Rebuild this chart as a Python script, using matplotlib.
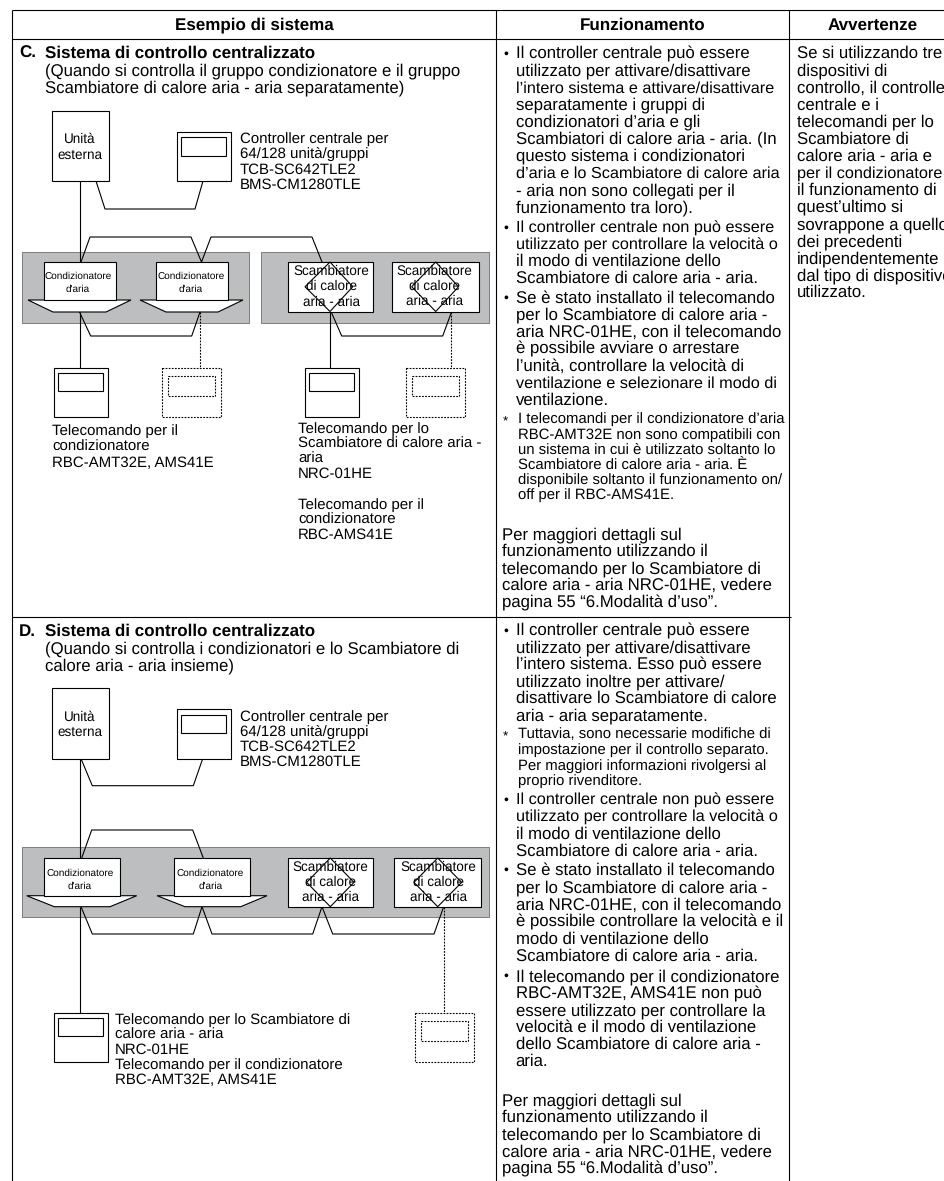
import matplotlib
matplotlib.use("Agg")
import matplotlib.pyplot as plt
from matplotlib import font_manager
from matplotlib.patches import Polygon, Rectangle

plt.rcParams['font.family'] = ['Liberation Sans', 'DejaVu Sans']
plt.rcParams['text.hinting'] = 'no_hinting'

headers = ["Esempio di sistema", "Funzionamento", "Avvertenze"]

title_c = "Sistema di controllo centralizzato"
sub_c = ["(Quando si controlla il gruppo condizionatore e il gruppo",
         "Scambiatore di calore aria - aria separatamente)"]
title_d = "Sistema di controllo centralizzato"
sub_d = ["(Quando si controlla i condizionatori e lo Scambiatore di",
         "calore aria - aria insieme)"]

outdoor = ["Unità", "esterna"]
central = ["Controller centrale per", "64/128 unità/gruppi", "TCB-SC642TLE2", "BMS-CM1280TLE"]
cond = ["Condizionatore", "d'aria"]
erv = ["Scambiatore", "di calore", "aria - aria"]

remote_c1 = ["Telecomando per il", "condizionatore", "RBC-AMT32E, AMS41E"]
remote_c2 = ["Telecomando per lo", "Scambiatore di calore aria -", "aria", "NRC-01HE"]
remote_c3 = ["Telecomando per il", "condizionatore", "RBC-AMS41E"]
remote_d = ["Telecomando per lo Scambiatore di", "calore aria - aria", "NRC-01HE",
            "Telecomando per il condizionatore", "RBC-AMT32E, AMS41E"]

func_c1 = ["Il controller centrale può essere", "utilizzato per attivare/disattivare",
           "l’intero sistema e attivare/disattivare", "separatamente i gruppi di",
           "condizionatori d’aria e gli", "Scambiatori di calore aria - aria. (In",
           "questo sistema i condizionatori", "d’aria e lo Scambiatore di calore aria",
           "- aria non sono collegati per il", "funzionamento tra loro)."]
func_c2 = ["Il controller centrale non può essere", "utilizzato per controllare la velocità o",
           "il modo di ventilazione dello", "Scambiatore di calore aria - aria."]
func_c3 = ["Se è stato installato il telecomando", "per lo Scambiatore di calore aria -",
           "aria NRC-01HE, con il telecomando", "è possibile avviare o arrestare",
           "l’unità, controllare la velocità di", "ventilazione e selezionare il modo di",
           "ventilazione."]
note_c = ["I telecomandi per il condizionatore d’aria", "RBC-AMT32E non sono compatibili con",
          "un sistema in cui è utilizzato soltanto lo", "Scambiatore di calore aria - aria. È",
          "disponibile soltanto il funzionamento on/", "off per il RBC-AMS41E."]
more_info = ["Per maggiori dettagli sul", "funzionamento utilizzando il",
             "telecomando per lo Scambiatore di", "calore aria - aria NRC-01HE, vedere",
             "pagina 55 “6.Modalità d’uso”."]

func_d1 = ["Il controller centrale può essere", "utilizzato per attivare/disattivare",
           "l’intero sistema. Esso può essere", "utilizzato inoltre per attivare/",
           "disattivare lo Scambiatore di calore", "aria - aria separatamente."]
note_d = ["Tuttavia, sono necessarie modifiche di", "impostazione per il controllo separato.",
          "Per maggiori informazioni rivolgersi al", "proprio rivenditore."]
func_d2 = func_c2
func_d3 = ["Se è stato installato il telecomando", "per lo Scambiatore di calore aria -",
           "aria NRC-01HE, con il telecomando", "è possibile controllare la velocità e il",
           "modo di ventilazione dello", "Scambiatore di calore aria - aria."]
func_d4 = ["Il telecomando per il condizionatore", "RBC-AMT32E, AMS41E non può",
           "essere utilizzato per controllare la", "velocità e il modo di ventilazione",
           "dello Scambiatore di calore aria -", "aria."]

warning = ["Se si utilizzando tre", "dispositivi di", "controllo, il controller", "centrale e i",
           "telecomandi per lo", "Scambiatore di", "calore aria - aria e", "per il condizionatore",
           "il funzionamento di", "quest’ultimo si", "sovrappone a quello", "dei precedenti",
           "indipendentemente", "dal tipo di dispositivo", "utilizzato."]

# righe che nell'originale sono un po' compresse
tight = ["utilizzato per controllare la velocità o", "ventilazione e selezionare il modo di",
         "l’intero sistema e attivare/disattivare", "d’aria e lo Scambiatore di calore aria",
         "Il controller centrale non può essere", "per il condizionatore"]

GRAY = "#bcbec0"
BODY = 12.05
NOTE = 10.7
DIAG = 10.85
UNIT = 9.75
HEAD = 12.25

names = {f.name for f in font_manager.fontManager.ttflist}
if 'Liberation Sans Narrow' in names:
    cond_family = ['Liberation Sans Narrow', 'Liberation Sans']
    cond_size = 8.6
else:
    cond_family = ['Liberation Sans']
    cond_size = 7.2

fig = plt.figure(figsize=(9.45, 11.81), dpi=100)
ax = fig.add_axes([0, 0, 1, 1])
ax.set_xlim(0, 945)
ax.set_ylim(1181, 0)
ax.axis("off")


def line(xs, ys, dotted=False, z=2):
    ls = (0, (1.6, 1.2)) if dotted else "-"
    ax.plot(xs, ys, color="black", lw=0.8, ls=ls, zorder=z, solid_capstyle="butt",
            solid_joinstyle="miter")


def box(x0, y0, x1, y1, dotted=False, fc="white", z=3):
    ax.add_patch(Rectangle((x0, y0), x1 - x0, y1 - y0, fc=fc, ec="black", lw=0.8,
                           ls=(0, (1.6, 1.2)) if dotted else "-", zorder=z))


def block(lines, x, y0, step, size=BODY, ha="left", weight="normal", family=None, z=5):
    for i, s in enumerate(lines):
        fs = size
        if size == BODY and s in tight:
            fs = size * 0.975
        ax.text(x, y0 + i * step, s, fontsize=fs, ha=ha, va="baseline", color="black",
                fontweight=weight, zorder=z, family=family or plt.rcParams['font.family'])


def remote(x0, y0, dotted=False):
    if dotted:
        box(x0, y0, x0 + 59, y0 + 49, dotted=True)
        box(x0 + 6, y0 + 7.5, x0 + 52.5, y0 + 27.5, dotted=True, z=4)
    else:
        box(x0, y0, x0 + 54, y0 + 49)
        box(x0 + 4.5, y0 + 5, x0 + 49, y0 + 23, z=4)


def cond_unit(x0, x1, wx0, wx1, bx0, bx1, y0, y1, y2, cx, by):
    ax.add_patch(Polygon([(wx0, y1), (wx1, y1), (bx1, y2), (bx0, y2)], closed=True, fc="white",
                         ec="black", lw=0.8, zorder=3))
    box(x0, y0, x1, y1)
    block(cond, cx, by[0], by[1] - by[0], size=cond_size, ha="center", family=cond_family)


def erv_unit(x0, x1, dx0, dx1, dc, y0, y1, cx, y_text):
    box(x0, y0, x1, y1)
    ym = (y0 + y1) / 2
    ax.add_patch(Polygon([(dc, y0), (dx1, ym), (dc, y1), (dx0, ym)], closed=True, fc="none",
                         ec="black", lw=0.8, zorder=4))
    block(erv, cx, y_text, 15.3, size=UNIT, ha="center")


# griglia della tabella
line([12.3, 12.3], [10.3, 1181], z=6)
line([495.7, 495.7], [10.3, 1181], z=6)
line([789.3, 789.3], [10.3, 1181], z=6)
line([12.3, 945], [10.3, 10.3], z=6)
line([12.3, 945], [39, 39], z=6)
line([12.3, 791], [616.7, 616.7], z=6)

for s, x in zip(headers, [254, 642.7, 873]):
    ax.text(x, 29.5, s, fontsize=HEAD, ha="center", va="baseline", fontweight="bold")

# C
ax.text(19, 58, "C.", fontsize=HEAD, fontweight="bold")
ax.text(45, 58, title_c, fontsize=HEAD, fontweight="bold")
block(sub_c, 45, 75, 17.2)

box(52, 111, 109, 181)
block(outdoor, 80, 142.7, 16.6, size=UNIT, ha="center")
box(177, 132, 231, 181)
box(181, 137, 226, 156, z=4)
block(central, 240, 143, 15.3, size=DIAG)
line([96, 105, 195, 203], [181, 209, 209, 181])
line([79.5, 79.5], [181, 262])

ax.add_patch(Rectangle((21.5, 252), 227.5, 70.7, fc=GRAY, ec="black", lw=0.6, ls=(0, (1.2, 1.2)), zorder=1))
ax.add_patch(Rectangle((261, 252), 228, 70.7, fc=GRAY, ec="black", lw=0.6, ls=(0, (1.2, 1.2)), zorder=1))
line([81, 90, 191, 201.5, 211, 312, 322], [262, 237, 237, 262, 237, 237, 262])

cond_unit(43.5, 116, 28, 131, 53, 106, 262, 300, 312, 78, [279, 291.7])
cond_unit(155.5, 227.5, 140, 243, 166, 218, 262, 300, 312, 191, [279, 291.7])
erv_unit(287.5, 373, 305, 352.7, 330, 262, 311.5, 331.3, 275)
erv_unit(392, 479, 411.7, 458.5, 435.7, 262, 311.5, 434.7, 274.5)

line([79.5, 79.5], [312, 368])
line([79.5, 90.7, 191.7, 200], [312, 336, 336, 312])
line([200, 200], [312, 368], dotted=True)
line([330.3, 330.3], [311.5, 368])
line([331, 341.7, 442.7, 451.7], [311.5, 336, 336, 311.5])
line([451, 451], [311.5, 368], dotted=True)
remote(53.7, 368.3)
remote(162.3, 368.3, dotted=True)
remote(304.7, 368.3)
remote(406, 368.3, dotted=True)
block(remote_c1, 52.3, 435, 15.8, size=DIAG)
block(remote_c2, 298, 433, 15, size=DIAG)
block(remote_c3, 298, 509, 14.9, size=DIAG)

# D
ax.text(19, 636, "D.", fontsize=HEAD, fontweight="bold")
ax.text(45, 636, title_d, fontsize=HEAD, fontweight="bold")
block(sub_d, 45, 653, 17)

box(52, 688.3, 109, 758.7)
block(outdoor, 80, 721, 15, size=UNIT, ha="center")
box(177, 709.3, 231, 758.7)
box(181, 714.7, 226, 733.3, z=4)
block(central, 240, 721, 14.9, size=DIAG)
line([81, 92.3, 193.3, 202.7], [758.7, 785.7, 785.7, 758.7])
line([80.3, 80.3], [758.7, 858])

ax.add_patch(Rectangle((21.5, 847.3), 467.5, 70, fc=GRAY, ec="black", lw=0.6, ls=(0, (1.2, 1.2)), zorder=1))
line([81.7, 91.7, 192.7, 203.3], [858, 830, 830, 858])

cond_unit(43.5, 120, 26.7, 136.7, 54.3, 110, 858, 895.7, 906.7, 80, [876.3, 889])
cond_unit(173.7, 250.3, 157, 267, 185, 240.7, 858, 895.7, 906.7, 210.3, [876.3, 889])
erv_unit(287.5, 373.3, 306.7, 354, 330.3, 858, 906.7, 330.7, 870.7)
erv_unit(394.3, 480.7, 414, 461.7, 437.7, 858, 906.7, 438.3, 870.7)

line([81, 92.3, 193.3, 202, 212, 312.7, 322, 332.7, 434, 443.7],
     [906.7, 934, 934, 906.7, 934, 934, 906.7, 934, 934, 906.7])
line([80.3, 80.3], [906.7, 1013.3])
line([443.7, 443.7], [906.7, 1013.3], dotted=True)
remote(53.7, 1013.3)
remote(415.3, 1013.3, dotted=True)
block(remote_d, 115, 1024, 15, size=DIAG)

# colonna Funzionamento
TX = 515.5
BX = 505.5
for yb in [57.5, 231.5, 302, 635, 804, 874, 980]:
    ax.text(BX, yb, "•", fontsize=10, ha="center", va="baseline")
for yb in [425, 740]:
    ax.text(BX, yb, "*", fontsize=NOTE - 1, ha="center", va="baseline")

block(func_c1, TX, 58.3, 17.1)
block(func_c2, TX, 232.3, 16.9)
block(func_c3, TX, 302.7, 17.05)
block(note_c, 517.5, 423.3, 15.2, size=NOTE)
block(more_info, 501.7, 539, 17.05)

block(func_d1, TX, 635.7, 16.9)
block(note_d, 518, 738.3, 15.6, size=NOTE)
block(func_d2, TX, 805, 16.9)
block(func_d3, TX, 875, 17.2)
block(func_d4, TX, 981, 17)
block(more_info, 501.7, 1105, 17.2)

# colonna Avvertenze
block(warning, 796.7, 58.3, 17.07)

fig.savefig("out.png", dpi=100)
